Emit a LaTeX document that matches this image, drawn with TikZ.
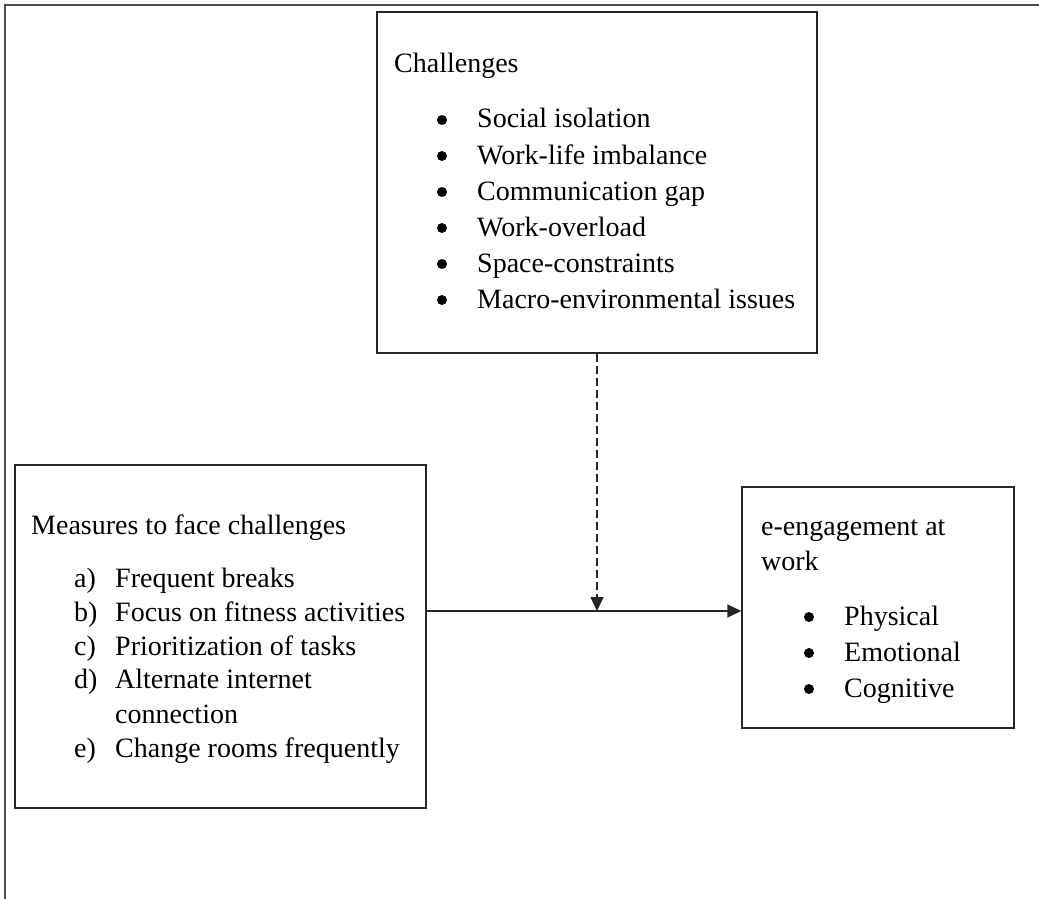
\documentclass[tikz,border=0pt]{standalone}
\usepackage{fontspec}
\setmainfont{Liberation Serif}
\usetikzlibrary{arrows.meta}

\begin{document}
\begin{tikzpicture}[x=1pt,y=-1pt,
  box/.style={draw=black!85,line width=1.5pt,rectangle,inner sep=0pt},
  txt/.style={anchor=base west,inner sep=0pt,text=black,font=\fontsize{28}{34}\selectfont},
  dot/.style={circle,fill=black,inner sep=0pt,minimum size=10pt},
  link/.style={-{Triangle[length=14pt,width=13pt]},line width=1.5pt,draw=black!85}]

  \useasboundingbox (0,0) rectangle (1039,899);
  \draw[black!70,line width=1.6pt] (1039,5) -- (5,5) -- (5,899);

  \node[box,minimum width=440pt,minimum height=341pt] (chal) at (597,182.5) {};
  \node[box,minimum width=411pt,minimum height=343pt] (meas) at (220.5,636.5) {};
  \node[box,minimum width=272pt,minimum height=241pt] (eng) at (878,607.5) {};

  % challenges
  \node[txt] (chaltitle) at (394,73) {Challenges};
  \foreach \ch [count=\i] in {Social isolation,Work-life imbalance,Communication gap,
      Work-overload,Space-constraints,Macro-environmental issues} {
    \node[dot] (chalb-\i) at (442,84+36*\i) {};
    \node[txt] (chal-\i) at (477,92+36*\i) {\ch};
  }

  % measures
  \node[txt] (meastitle) at (31,534) {Measures to face challenges};
  \foreach \lab/\ch/\y in {a/Frequent breaks/587,b/Focus on fitness activities/621,
      c/Prioritization of tasks/655,d/Alternate internet/688,e/Change rooms frequently/757} {
    \node[txt] (measl-\lab) at (74,\y) {\lab)};
    \node[txt] (meas-\lab) at (115,\y) {\ch};
  }
  \node[txt] (meas-d2) at (115,723) {connection};

  % engagement
  \node[txt] (engtitle) at (761,535) {e-engagement at};
  \node[txt] (engtitle2) at (761,570) {work};
  \foreach \ch [count=\i] in {Physical,Emotional,Cognitive} {
    \node[dot] (engb-\i) at (809,581+36*\i) {};
    \node[txt] (eng-\i) at (844,589+36*\i) {\ch};
  }

  \coordinate (join) at (597,611);
  \draw[link] (meas.east |- join) -- (eng.west |- join);
  \draw[link,dash pattern=on 8pt off 4pt] (chal.south) -- (join);
\end{tikzpicture}
\end{document}
